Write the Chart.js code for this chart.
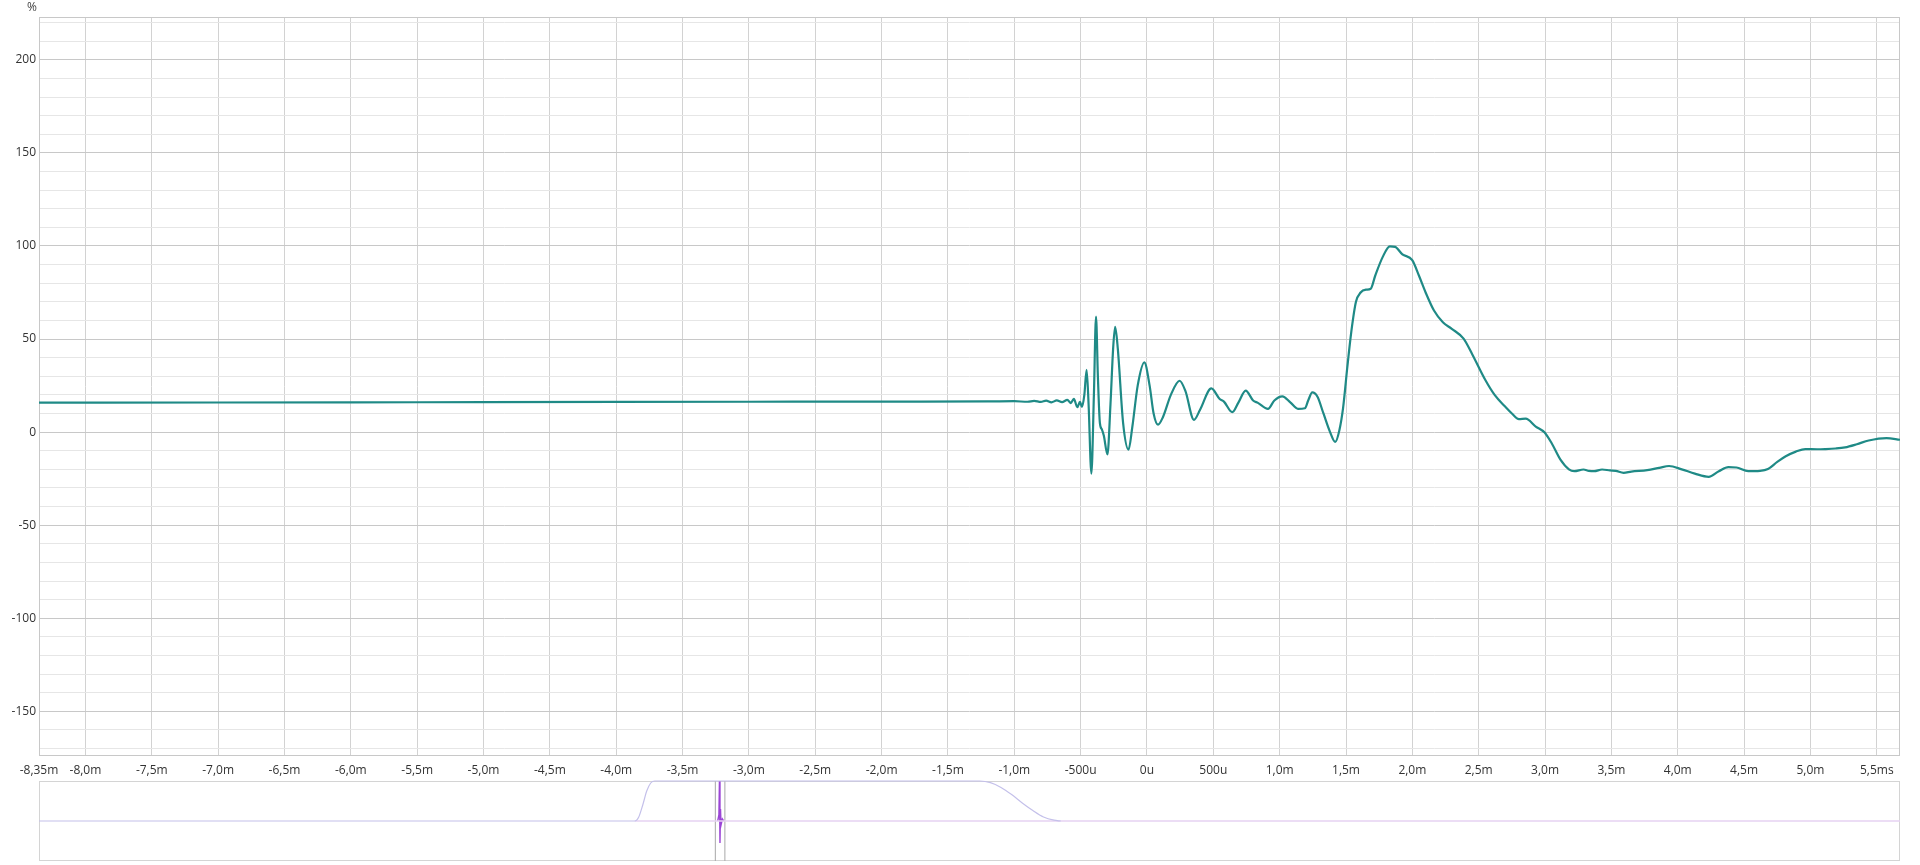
<!DOCTYPE html>
<html>
<head>
<meta charset="utf-8">
<title>Impulse response</title>
<script src="https://cdn.jsdelivr.net/npm/chart.js@4.4.1/dist/chart.umd.min.js"></script>
<style>
  html, body { margin: 0; padding: 0; background: #fff; }
  canvas { display: block; }
</style>
</head>
<body>
<canvas id="main" width="1920" height="780"></canvas>
<canvas id="overview" width="1920" height="85"></canvas>
<script>
// time in ms, value in %
const timeMs = [
  -8.35, -7.0, -6.0, -5.0, -4.0, -3.0, -2.0, -1.2, -1.0, -0.9, -0.85, -0.8, -0.76, -0.72,
  -0.68, -0.64, -0.6, -0.575, -0.551, -0.525, -0.505, -0.49, -0.472, -0.455, -0.44, -0.419,
  -0.4, -0.384, -0.37, -0.355, -0.34, -0.325, -0.298, -0.275, -0.255, -0.24, -0.22, -0.18,
  -0.139, -0.11, -0.07, -0.02, 0.02, 0.05, 0.083, 0.12, 0.18, 0.246, 0.29, 0.354, 0.4,
  0.485, 0.548, 0.58, 0.643, 0.69, 0.744, 0.8, 0.836, 0.912, 0.96, 1.02, 1.08, 1.138, 1.19,
  1.215, 1.246, 1.285, 1.33, 1.38, 1.419, 1.45, 1.478, 1.51, 1.54, 1.575, 1.61, 1.65, 1.686,
  1.72, 1.776, 1.83, 1.87, 1.925, 1.999, 2.05, 2.1, 2.163, 2.23, 2.297, 2.386, 2.45, 2.55,
  2.62, 2.699, 2.75, 2.803, 2.854, 2.93, 2.997, 3.05, 3.116, 3.18, 3.22, 3.29, 3.33, 3.37,
  3.43, 3.49, 3.533, 3.592, 3.65, 3.77, 3.86, 3.935, 4.03, 4.129, 4.233, 4.31, 4.382, 4.442,
  4.531, 4.62, 4.68, 4.75, 4.814, 4.89, 4.962, 5.05, 5.111, 5.19, 5.261, 5.35, 5.439, 5.573,
  5.675
];
const valuePct = [
  15.8, 15.9, 16.0, 16.1, 16.2, 16.3, 16.4, 16.5, 16.6, 16.3, 16.8, 16.2, 16.9, 16.0,
  17.0, 16.1, 17.3, 15.6, 17.8, 13.4, 16.2, 13.6, 20, 33.5, 15, -22.3,
  20, 62, 30, 5, 1.5, -2, -12, 15, 45, 56.5, 45, 5,
  -9.4, 3, 25, 37.5, 25, 10, 4, 8, 20, 27.6, 22, 6.6, 12,
  23.5, 17.8, 16.4, 10.7, 16, 22.3, 17, 15.7, 12.5, 17, 19.2, 16, 12.5, 12.8,
  17, 21.3, 19, 10, 0, -5.3, 1, 13, 35, 54, 70, 75, 76.5, 77,
  84, 94, 99.8, 99.5, 95.5, 92.4, 84, 75, 65.3, 59, 55.5, 50.2, 42, 28,
  20, 13.7, 10, 7, 7.2, 3, -0.2, -6, -14.8, -20, -21, -20.1, -20.8, -21,
  -20.1, -20.6, -20.8, -21.9, -21.2, -20.4, -19.2, -18.2, -20, -22.3, -24, -21, -18.8, -19,
  -21, -20.8, -19.8, -16, -13, -10.5, -9.1, -9.2, -9.1, -8.8, -8.2, -6.5, -4.5, -3.2,
  -4.1
];

const xTickValues = [-8.35, -8.0, -7.5, -7.0, -6.5, -6.0, -5.5, -5.0, -4.5, -4.0, -3.5, -3.0,
  -2.5, -2.0, -1.5, -1.0, -0.5, 0, 0.5, 1.0, 1.5, 2.0, 2.5, 3.0, 3.5, 4.0, 4.5, 5.0, 5.5];
const xTickLabels = ['-8,35m', '-8,0m', '-7,5m', '-7,0m', '-6,5m', '-6,0m', '-5,5m', '-5,0m',
  '-4,5m', '-4,0m', '-3,5m', '-3,0m', '-2,5m', '-2,0m', '-1,5m', '-1,0m', '-500u', '0u',
  '500u', '1,0m', '1,5m', '2,0m', '2,5m', '3,0m', '3,5m', '4,0m', '4,5m', '5,0m', '5,5ms'];

// overview strip
const windowTime = [-8.35, -3.86, -3.83, -3.8, -3.77, -3.74, -3.71, -1.26, -1.18, -1.1, -1.02,
  -0.94, -0.86, -0.78, -0.7, -0.65];
const windowLevel = [0, 0, 0.1, 0.4, 0.75, 0.95, 1, 1, 0.96, 0.84, 0.66, 0.45, 0.26, 0.1, 0.02, 0];
const baseTime = [-3.86, 5.675];
const baseLevel = [0, 0];
const spikeTime = [-3.235, -3.226, -3.222, -3.218, -3.214, -3.21, -3.2, -3.19];
const spikeLevel = [0, 0.15, 1.0, -0.55, 0.3, -0.1, 0.05, 0];
const markerTimes = [-3.253, -3.181];

const X_MIN = -8.35, X_MAX = 5.675;
const FONT = { family: "'Open Sans', 'Noto Sans', sans-serif", size: 12 };

const framePlugin = {
  id: 'frame',
  beforeDatasetsDraw(chart, args, opts) {
    const { ctx, chartArea: a } = chart;
    ctx.save();
    ctx.strokeStyle = opts.color || '#c8c8c8';
    ctx.lineWidth = 1;
    ctx.strokeRect(Math.round(a.left) + 0.5, Math.round(a.top) + 0.5,
      Math.round(a.right - a.left) - 1, Math.round(a.bottom - a.top) - 1);
    if (opts.unit) {
      ctx.fillStyle = '#444';
      ctx.font = FONT.size + 'px ' + FONT.family;
      ctx.textAlign = 'center';
      ctx.textBaseline = 'middle';
      ctx.fillText(opts.unit, a.left - 7, a.top - 9);
    }
    ctx.restore();
  }
};

new Chart(document.getElementById('main'), {
  type: 'line',
  data: {
    datasets: [{
      data: timeMs.map((t, i) => ({ x: t, y: valuePct[i] })),
      borderColor: '#1f8a86',
      borderWidth: 2.2,
      pointRadius: 0,
      cubicInterpolationMode: 'monotone',
      fill: false
    }]
  },
  options: {
    responsive: false,
    animation: false,
    layout: { padding: { left: 0, right: 20, top: 17, bottom: 0 } },
    plugins: {
      legend: { display: false },
      tooltip: { enabled: false },
      frame: { color: '#c8c8c8', unit: '%' }
    },
    scales: {
      x: {
        type: 'linear',
        min: X_MIN,
        max: X_MAX,
        afterBuildTicks: (scale) => { scale.ticks = xTickValues.map(v => ({ value: v })); },
        afterFit: (scale) => { scale.height = 24; },
        ticks: {
          autoSkip: false,
          maxRotation: 0,
          padding: 7,
          color: '#333',
          font: FONT,
          callback: (v, i) => xTickLabels[i]
        },
        grid: { color: '#d2d2d2', drawTicks: false },
        border: { display: false }
      },
      y: {
        min: -174,
        max: 223,
        afterFit: (scale) => { scale.width = 39; },
        ticks: {
          stepSize: 10,
          includeBounds: false,
          autoSkip: false,
          padding: 3,
          color: '#333',
          font: FONT,
          callback: (v) => (v % 50 === 0 ? String(v) : '')
        },
        grid: {
          drawTicks: false,
          color: (c) => (c.tick && c.tick.value % 50 === 0 ? '#c8c8c8' : '#e6e6e6')
        },
        border: { display: false }
      }
    }
  },
  plugins: [framePlugin]
});

const markerSets = markerTimes.map(t => ({
  data: [{ x: t, y: -1 }, { x: t, y: 1 }],
  borderColor: '#a8a8a8',
  borderWidth: 1,
  pointRadius: 0,
  tension: 0
}));

new Chart(document.getElementById('overview'), {
  type: 'line',
  data: {
    datasets: [
      {
        data: windowTime.map((t, i) => ({ x: t, y: windowLevel[i] })),
        borderColor: '#c4c0ea',
        borderWidth: 1.2,
        pointRadius: 0,
        cubicInterpolationMode: 'monotone',
        clip: false
      },
      {
        data: baseTime.map((t, i) => ({ x: t, y: baseLevel[i] })),
        borderColor: '#e6d2f2',
        borderWidth: 1.5,
        pointRadius: 0,
        tension: 0
      },
      ...markerSets,
      {
        data: spikeTime.map((t, i) => ({ x: t, y: spikeLevel[i] })),
        borderColor: '#9b45d6',
        borderWidth: 1.4,
        pointRadius: 0,
        tension: 0,
        clip: false
      }
    ]
  },
  options: {
    responsive: false,
    animation: false,
    layout: { padding: { left: 39, right: 20, top: 1, bottom: 4 } },
    plugins: {
      legend: { display: false },
      tooltip: { enabled: false },
      frame: { color: '#d4d4d4' }
    },
    scales: {
      x: { type: 'linear', min: X_MIN, max: X_MAX, display: false },
      y: { min: -1, max: 1, display: false }
    }
  },
  plugins: [framePlugin]
});
</script>
</body>
</html>
